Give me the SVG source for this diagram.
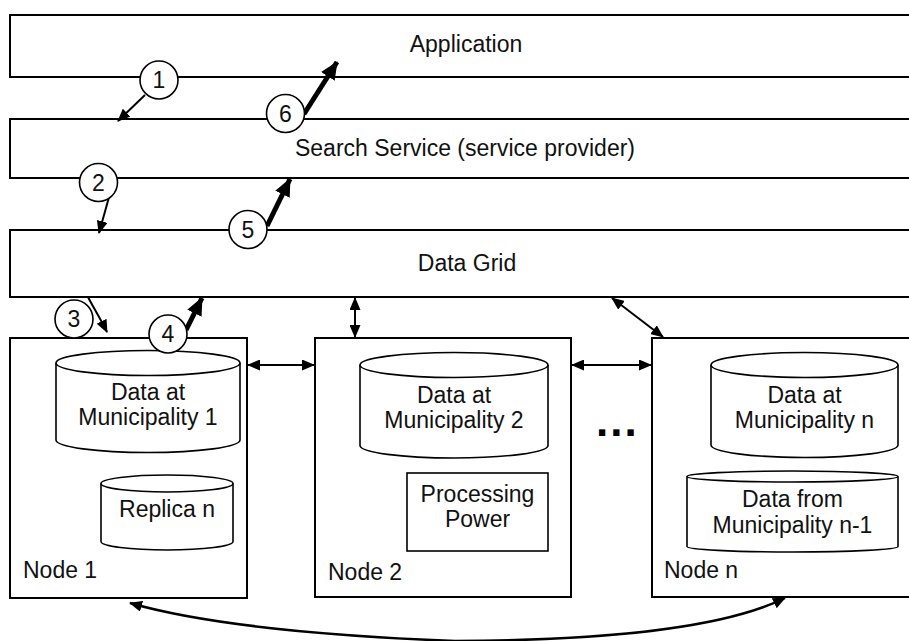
<svg xmlns="http://www.w3.org/2000/svg" width="909" height="641" viewBox="0 0 909 641">
<style>
.box{fill:#fff;stroke:#000;stroke-width:2}
.cyl{fill:#fff;stroke:#000;stroke-width:1.6}
.t{font-family:"Liberation Sans",Arial,sans-serif;font-size:23px;fill:#111}
.c{text-anchor:middle}
.thin{fill:none;stroke:#000;stroke-width:2}
.thick{fill:none;stroke:#000;stroke-width:5}
.circ{fill:#fff;stroke:#000;stroke-width:1.6}
</style>
<defs>
<marker id="ah" markerUnits="userSpaceOnUse" markerWidth="13" markerHeight="11" refX="12" refY="5.5" orient="auto-start-reverse"><path d="M0,0 L13,5.5 L0,11 z" fill="#000"/></marker>
<marker id="ahb" markerUnits="userSpaceOnUse" markerWidth="18" markerHeight="16" refX="17" refY="8" orient="auto"><path d="M0,0 L18,8 L0,16 z" fill="#000"/></marker>
</defs>
<rect width="909" height="641" fill="#fff"/>
<g id="application"><rect class="box" x="10" y="15" width="910" height="62"/><text class="t c" x="466" y="52">Application</text></g>
<g id="search-service"><rect class="box" x="10" y="119" width="910" height="59"/><text class="t c" x="465" y="156">Search Service (service provider)</text></g>
<g id="data-grid"><rect class="box" x="10" y="230" width="910" height="67"/><text class="t c" x="467" y="271">Data Grid</text></g>
<g id="node1"><rect class="box" x="10" y="338" width="237" height="260"/><text class="t" x="23" y="578">Node 1</text>
<g id="cyl-m1"><path class="cyl" d="M56,363 L56,440 A92,12.5 0 0 0 240,440 L240,363"/><ellipse class="cyl" cx="148" cy="363" rx="92" ry="12.5"/><text class="t c" x="148" y="400">Data at</text><text class="t c" x="148" y="425">Municipality 1</text></g>
<g id="replica"><path class="cyl" d="M101,483.5 L101,541.5 A66,8.5 0 0 0 233,541.5 L233,483.5"/><ellipse class="cyl" cx="167" cy="483.5" rx="66" ry="8.5"/><text class="t c" x="167" y="517">Replica n</text></g>
</g>
<g id="node2"><rect class="box" x="315" y="338" width="256" height="259"/><text class="t" x="328" y="580">Node 2</text>
<g id="cyl-m2"><path class="cyl" d="M360,365 L360,445.5 A94,12.5 0 0 0 548,445.5 L548,365"/><ellipse class="cyl" cx="454" cy="365" rx="94" ry="12.5"/><text class="t c" x="454" y="403">Data at</text><text class="t c" x="454" y="428">Municipality 2</text></g>
<g id="processing"><rect class="cyl" x="407" y="473" width="141" height="78"/><text class="t c" x="477.5" y="502">Processing</text><text class="t c" x="477.5" y="527">Power</text></g>
</g>
<g id="dots"><text x="596" y="436" style="font-family:'Liberation Sans',Arial,sans-serif;font-size:44px;font-weight:bold;letter-spacing:2px">...</text></g>
<g id="noden"><rect class="box" x="652" y="338" width="270" height="259"/><text class="t" x="664" y="578">Node n</text>
<g id="cyl-mn"><path class="cyl" d="M711,365 L711,445 A93.5,12.5 0 0 0 898,445 L898,365"/><ellipse class="cyl" cx="804.5" cy="365" rx="93.5" ry="12.5"/><text class="t c" x="804.5" y="403">Data at</text><text class="t c" x="804.5" y="428">Municipality n</text></g>
<g id="cyl-mn1"><path class="cyl" d="M687,476.5 L687,546.5 A105.5,5.5 0 0 0 898,546.5 L898,476.5"/><ellipse class="cyl" cx="792.5" cy="476.5" rx="105.5" ry="5.5"/><text class="t c" x="792.5" y="507">Data from</text><text class="t c" x="792.5" y="533">Municipality n-1</text></g>
</g>
<g id="connectors">
<line class="thin" x1="145" y1="95" x2="118" y2="121" marker-end="url(#ah)"/>
<line class="thick" x1="304" y1="114" x2="337" y2="62" marker-end="url(#ahb)"/>
<line class="thin" x1="111" y1="190" x2="99" y2="233" marker-end="url(#ah)"/>
<line class="thick" x1="267" y1="226" x2="290" y2="179" marker-end="url(#ahb)"/>
<path class="thin" d="M88,297 C92,305 100,318 107,332" marker-end="url(#ah)"/>
<line class="thick" x1="186" y1="330" x2="202" y2="298" marker-end="url(#ahb)"/>
<line class="thin" x1="248" y1="365" x2="314" y2="365" marker-start="url(#ah)" marker-end="url(#ah)"/>
<line class="thin" x1="572" y1="365" x2="651" y2="365" marker-start="url(#ah)" marker-end="url(#ah)"/>
<line class="thin" x1="355" y1="298" x2="355" y2="337" marker-start="url(#ah)" marker-end="url(#ah)"/>
<line class="thin" x1="612" y1="298" x2="663" y2="337" marker-start="url(#ah)" marker-end="url(#ah)"/>
<path class="thin" style="stroke-width:2.5" d="M130,603 Q230,632 455,641 Q700,640 785,598" marker-start="url(#ah)" marker-end="url(#ah)"/>
</g>
<g id="step-labels">
<g id="s1"><circle class="circ" cx="159" cy="80" r="19"/><text class="t c" x="159" y="88">1</text></g>
<g id="s6"><circle class="circ" cx="285.5" cy="113.5" r="19"/><text class="t c" x="285.5" y="121.5">6</text></g>
<g id="s2"><circle class="circ" cx="98.5" cy="182.5" r="19"/><text class="t c" x="98.5" y="190.5">2</text></g>
<g id="s5"><circle class="circ" cx="248" cy="229.5" r="19"/><text class="t c" x="248" y="237.5">5</text></g>
<g id="s3"><circle class="circ" cx="74" cy="319" r="19"/><text class="t c" x="74" y="327">3</text></g>
<g id="s4"><circle class="circ" cx="168" cy="334" r="19"/><text class="t c" x="168" y="342">4</text></g>
</g>
</svg>
